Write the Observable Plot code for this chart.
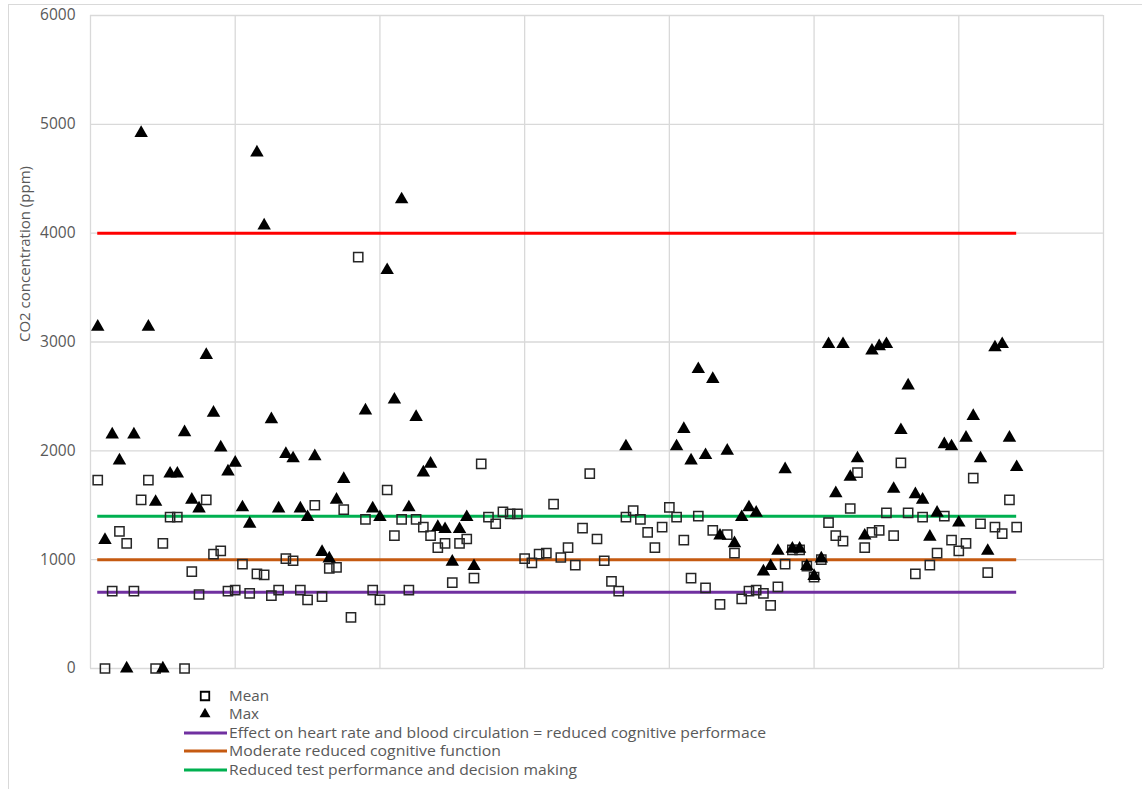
<!DOCTYPE html>
<html><head><meta charset="utf-8">
<script src="https://cdn.jsdelivr.net/npm/d3@7"></script>
<script src="https://cdn.jsdelivr.net/npm/@observablehq/plot@0.6"></script>
<style>
body{margin:0;background:#fff;overflow:hidden;font-family:"Open Sans",sans-serif;}
#wrap{position:relative;width:1142px;height:789px;overflow:hidden;}
#frame{position:absolute;left:8px;top:4px;width:1300px;height:900px;border:1px solid #d9d9d9;}
#chart{position:absolute;left:0;top:0;}
#legend{position:absolute;left:0;top:680px;}
</style></head><body>
<div id="wrap"><div id="frame"></div><div id="chart"></div><svg id="legend" width="850" height="109"></svg></div>
<script>
// ---- data ----
const meanValues = [
  1730, 0, 710, 1260, 1150, 710, 1550, 1730, 0, 1150,
  1390, 1390, 0, 890, 680, 1550, 1050, 1080, 710, 720,
  960, 690, 870, 860, 670, 720, 1010, 990, 720, 630,
  1500, 660, 920, 930, 1460, 470, 3780, 1370, 720, 630,
  1640, 1220, 1370, 720, 1370, 1300, 1220, 1110, 1150, 790,
  1150, 1190, 830, 1880, 1390, 1330, 1440, 1420, 1420, 1010,
  970, 1050, 1060, 1510, 1020, 1110, 950, 1290, 1790, 1190,
  990, 800, 710, 1390, 1450, 1370, 1250, 1110, 1300, 1480,
  1390, 1180, 830, 1400, 740, 1270, 590, 1230, 1060, 640,
  710, 720, 690, 580, 750, 960, 1090, 1090, 940, 840,
  1000, 1340, 1220, 1170, 1470, 1800, 1110, 1250, 1270, 1430,
  1220, 1890, 1430, 870, 1390, 950, 1060, 1400, 1180, 1080,
  1150, 1750, 1330, 880, 1300, 1240, 1550, 1300
];
const maxValues = [
  3140, 1180, 2150, 1910, 0, 2150, 4920, 3140, 1530, 0,
  1790, 1790, 2170, 1550, 1470, 2880, 2350, 2030, 1810, 1890,
  1480, 1330, 4740, 4070, 2290, 1470, 1970, 1930, 1470, 1390,
  1950, 1070, 1010, 1550, 1740, null, null, 2370, 1470, 1390,
  3660, 2470, 4310, 1480, 2310, 1800, 1880, 1300, 1280, 980,
  1280, 1390, 940, null, null, null, null, null, null, null,
  null, null, null, null, null, null, null, null, null, null,
  null, null, null, 2040, null, null, null, null, null, null,
  2040, 2200, 1910, 2750, 1960, 2660, 1220, 2000, 1150, 1390,
  1480, 1430, 890, 940, 1080, 1830, 1100, 1100, 940, 850,
  1010, 2980, 1610, 2980, 1760, 1930, 1220, 2920, 2960, 2980,
  1650, 2190, 2600, 1600, 1550, 1210, 1430, 2060, 2040, 1340,
  2120, 2320, 1930, 1080, 2950, 2980, 2120, 1850
];
const thresholdValues = [700, 1000, 1400, 4000];
const thresholdColors = ["#7030A0", "#C55A11", "#00B050", "#FF0000"];
const thresholdLabels = [
  "Effect on heart rate and blood circulation = reduced cognitive performace",
  "Moderate reduced cognitive function",
  "Reduced test performance and decision making",
  null
];
const seriesLabels = ["Mean", "Max"];
const xGridTicks = [0, 20, 40, 60, 80, 100, 120, 140];
const yTicks = [0, 1000, 2000, 3000, 4000, 5000, 6000];
const yLabel = "CO2 concentration (ppm)";

// ---- tables ----
const sampleIndex = meanValues.map((_, i) => i + 1);
const meanData = sampleIndex.map((s, i) => ({sample: s, value: meanValues[i]}));
const maxData = sampleIndex.map((s, i) => ({sample: s, value: maxValues[i]})).filter(d => d.value != null);
const firstSample = sampleIndex[0], lastSample = sampleIndex[sampleIndex.length - 1];
const thresholds = thresholdValues.map((v, i) => ({value: v, color: thresholdColors[i], label: thresholdLabels[i]}));

const chart = Plot.plot({
  width: 1142, height: 680,
  marginLeft: 90, marginRight: 39, marginTop: 15, marginBottom: 12,
  style: {fontFamily: '"Open Sans", sans-serif', color: "#595959", background: "transparent", overflow: "visible"},
  x: {domain: [0, 140], axis: null},
  y: {domain: [0, 6000], axis: null},
  marks: [
    Plot.ruleX(xGridTicks, {x: d => d, stroke: "#d9d9d9", strokeWidth: 1.3}),
    Plot.ruleY(yTicks, {y: d => d, stroke: "#d9d9d9", strokeWidth: 1.3}),
    Plot.axisY({ticks: yTicks, tickSize: 0, tickPadding: 15, fontSize: 15.5, label: null, tickFormat: d => String(d)}),
    Plot.text([yLabel], {frameAnchor: "left", rotate: -90, dx: -65, fontSize: 15, fill: "#595959", text: d => d}),
    Plot.ruleY(thresholds, {y: "value", x1: firstSample, x2: lastSample, stroke: "color", strokeWidth: 3}),
    Plot.dot(meanData, {x: "sample", y: "value", symbol: "square", r: 5.2, stroke: "#262626", strokeWidth: 1.5, fill: "none"}),
    Plot.dot(maxData, {x: "sample", y: "value", symbol: "triangle", r: 5, fill: "#000", stroke: "none"})
  ]
});
document.getElementById("chart").appendChild(chart);

// ---- legend ----
const lg = d3.select("#legend");
const rowY = [16, 34, 53, 71, 90];
const textWidths = [40, 30, 537, 272, 348];
const items = [
  {type: "square", label: seriesLabels[0]},
  {type: "triangle", label: seriesLabels[1]},
  ...thresholds.filter(t => t.label).map(t => ({type: "line", label: t.label, color: t.color}))
];
items.forEach((it, i) => {
  const y = rowY[i];
  if (it.type === "square") {
    lg.append("path").attr("transform", `translate(205,${y})`)
      .attr("d", d3.symbol(d3.symbolSquare, Math.PI * 4.8 * 4.8)())
      .attr("fill", "none").attr("stroke", "#000").attr("stroke-width", 1.8);
  } else if (it.type === "triangle") {
    lg.append("path").attr("transform", `translate(205,${y})`)
      .attr("d", d3.symbol(d3.symbolTriangle2, Math.PI * 5.2 * 5.2)())
      .attr("fill", "#000");
  } else {
    lg.append("line").attr("x1", 184).attr("x2", 227).attr("y1", y).attr("y2", y)
      .attr("stroke", it.color).attr("stroke-width", 3);
  }
  lg.append("text").attr("x", 229).attr("y", y).attr("dy", "0.35em")
    .attr("font-family", '"Open Sans", sans-serif').attr("font-size", 15)
    .attr("fill", "#595959")
    .attr("textLength", textWidths[i]).attr("lengthAdjust", "spacingAndGlyphs")
    .text(it.label);
});
</script>
</body></html>
